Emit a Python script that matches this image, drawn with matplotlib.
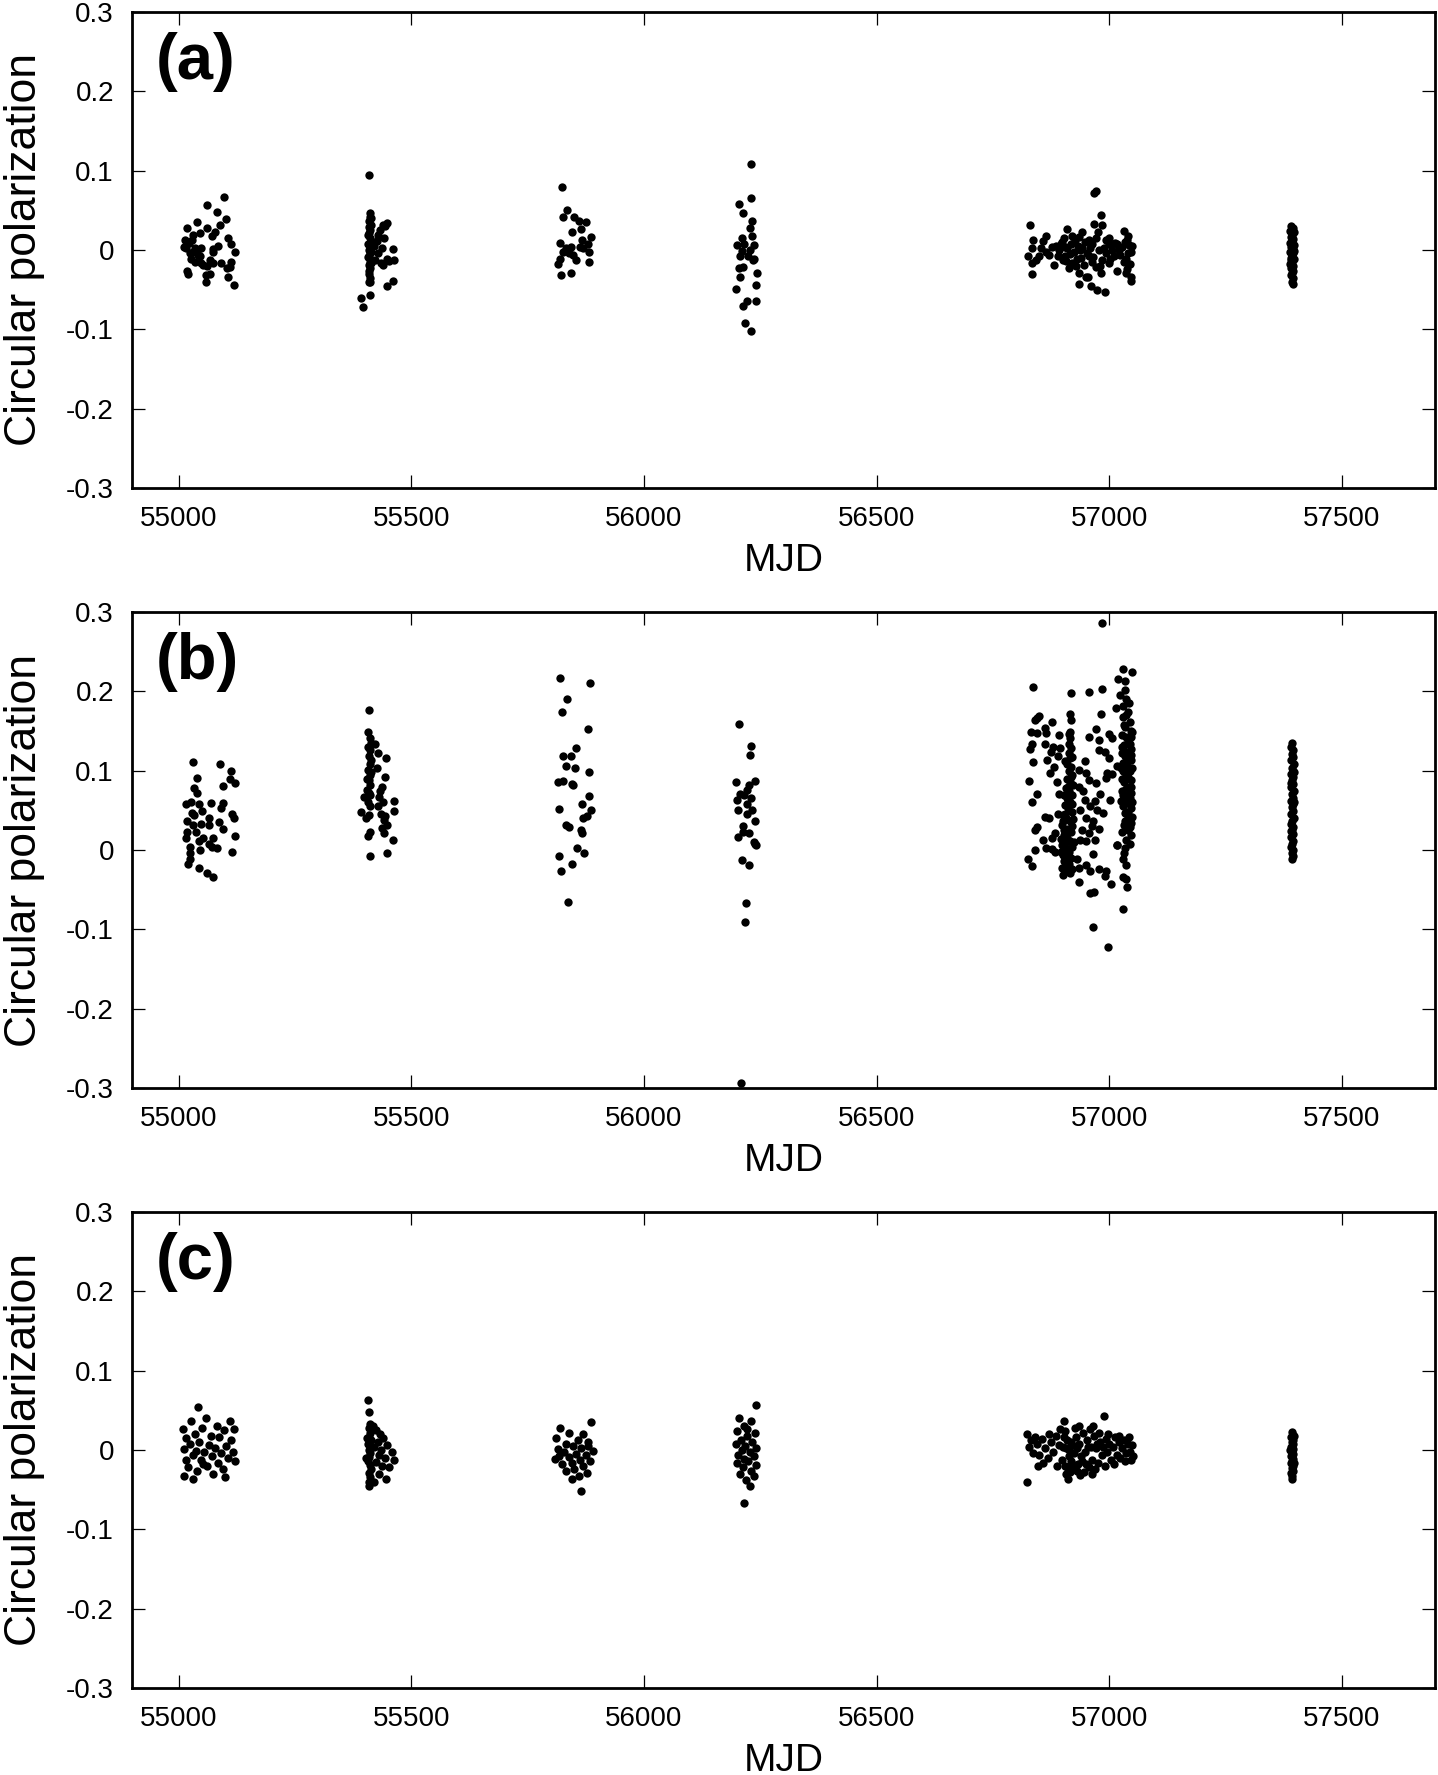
import matplotlib.pyplot as plt

plt.rcParams.update({'font.family': ['Liberation Sans', 'DejaVu Sans'],
                     'font.size': 20, 'axes.unicode_minus': False})

xticks = [55000, 55500, 56000, 56500, 57000, 57500]
yticks = [-0.3, -0.2, -0.1, 0, 0.1, 0.2, 0.3]
ytick_labels = ["-0.3", "-0.2", "-0.1", "0", "0.1", "0.2", "0.3"]
panel_tags = ["(a)", "(b)", "(c)"]

# (MJD, circular polarization), panel (a)
panel_a = [
    # 2009
    (55097, 0.067), (55062, 0.057), (55083, 0.048), (55102, 0.039), (55039, 0.035),
    (55019, 0.028), (55061, 0.028), (55089, 0.031), (55078, 0.023), (55046, 0.021),
    (55072, 0.017), (55106, 0.015), (55014, 0.012), (55028, 0.013), (55112, 0.008),
    (55085, 0.005), (55017, 0.003), (55035, 0.002), (55049, 0.002), (55073, 0.001),
    (55121, -0.002), (55075, -0.002), (55024, -0.004), (55042, -0.006), (55026, -0.011),
    (55067, -0.013), (55092, -0.016), (55112, -0.015), (55035, -0.015), (55049, -0.017),
    (55075, -0.016), (55061, -0.020), (55104, -0.023), (55110, -0.021), (55019, -0.026),
    (55021, -0.030), (55060, -0.032), (55067, -0.030), (55107, -0.034), (55060, -0.041),
    (55119, -0.044), (55012, 0.004), (55039, 0.000), (55046, -0.008), (55030, -0.002),
    (55053, -0.019), (55022, 0.009), (55031, 0.019),
    # 2010
    (55410, 0.095), (55412, 0.046), (55411, 0.042), (55410, 0.036), (55409, 0.029),
    (55411, 0.025), (55408, 0.019), (55411, 0.015), (55407, 0.008), (55412, 0.004),
    (55409, 0.000), (55411, -0.004), (55408, -0.009), (55411, -0.015), (55409, -0.019),
    (55412, -0.023), (55410, -0.030), (55411, -0.036), (55412, -0.041), (55409, -0.040),
    (55413, 0.040), (55410, 0.021), (55413, 0.011), (55410, -0.008), (55413, -0.017),
    (55409, -0.027), (55414, 0.031), (55414, -0.003),
    (55447, 0.034), (55440, 0.032), (55433, 0.025), (55429, 0.019), (55441, 0.015),
    (55426, 0.011), (55438, 0.002), (55461, 0.001), (55429, -0.004), (55447, -0.011),
    (55462, -0.013), (55440, -0.019), (55422, -0.013), (55461, -0.039), (55449, -0.045),
    (55412, -0.057), (55392, -0.061), (55397, -0.072), (55444, 0.030), (55436, -0.017),
    (55420, 0.005), (55452, -0.014),
    # 2011
    (55825, 0.079), (55835, 0.050), (55826, 0.042), (55850, 0.041), (55860, 0.037),
    (55875, 0.035), (55846, 0.023), (55865, 0.026), (55887, 0.016), (55866, 0.013),
    (55819, 0.009), (55880, 0.008), (55833, 0.002), (55844, 0.004), (55869, 0.002),
    (55883, -0.002), (55826, -0.002), (55847, -0.006), (55854, -0.013), (55819, -0.011),
    (55815, -0.018), (55881, -0.015), (55843, -0.029), (55821, -0.032), (55840, -0.004),
    (55862, 0.004),
    # 2012
    (56231, 0.108), (56230, 0.066), (56204, 0.058), (56213, 0.046), (56232, 0.036),
    (56227, 0.027), (56211, 0.015), (56232, 0.017), (56201, 0.006), (56236, 0.006),
    (56216, 0.008), (56206, -0.008), (56224, -0.008), (56237, -0.012), (56213, -0.021),
    (56206, -0.034), (56243, -0.029), (56240, -0.044), (56199, -0.049), (56222, -0.065),
    (56240, -0.065), (56213, -0.071), (56218, -0.092), (56230, -0.102), (56211, -0.001),
    (56227, 0.000), (56234, -0.013), (56205, -0.023),
    # 2014
    (56830, 0.031), (56967, 0.072), (56971, 0.074), (56982, 0.044), (56967, 0.033),
    (56985, 0.032), (56910, 0.026), (56942, 0.023), (57031, 0.024), (56864, 0.017),
    (56976, 0.023), (56836, 0.013), (56857, 0.011), (56903, 0.015), (56935, 0.016),
    (56956, 0.013), (56963, 0.008), (56999, 0.008), (57013, 0.009), (57039, 0.013),
    (57042, 0.006), (56834, 0.002), (56878, 0.004), (56893, 0.000), (56910, 0.002),
    (56924, -0.002), (56942, 0.002), (56978, 0.000), (56992, -0.004), (57020, 0.000),
    (57046, -0.002), (56825, -0.008), (56850, -0.008), (56871, -0.006), (56906, -0.008),
    (56931, -0.011), (56956, -0.008), (56985, -0.013), (57010, -0.008), (57035, -0.011),
    (56835, -0.017), (56882, -0.019), (56914, -0.023), (56946, -0.019), (56971, -0.021),
    (56999, -0.017), (57017, -0.027), (57038, -0.024), (56834, -0.030), (56935, -0.029),
    (56955, -0.034), (56982, -0.029), (57046, -0.034), (57046, -0.039), (56935, -0.043),
    (56960, -0.045), (56974, -0.050), (56990, -0.053), (57035, -0.029), (56949, -0.034),
    (56896, 0.008), (56917, 0.008), (56900, -0.013), (56921, -0.017), (56889, -0.008),
    (56938, 0.000), (56953, -0.004), (57006, 0.000), (57027, 0.004), (57031, -0.015),
    (56864, -0.002), (56853, 0.002), (56842, -0.013), (56999, 0.015), (57017, 0.008),
    (56971, 0.015), (56926, 0.012), (56915, -0.005), (56898, 0.010), (57040, 0.018),
    (57048, 0.005), (57044, -0.018), (56886, 0.005), (56932, 0.005), (56962, -0.015),
    (56908, -0.014), (56920, 0.018), (56928, -0.020), (56940, -0.010), (56947, 0.010),
    (56958, 0.003), (56966, -0.009), (56980, -0.020), (56988, 0.003), (56994, 0.012),
    (57002, -0.012), (57024, -0.006), (57033, 0.010), (57041, -0.004), (56904, 0.004),
    # 2016
    (57391, 0.030), (57394, 0.027), (57389, 0.024), (57396, 0.022), (57392, 0.019),
    (57390, 0.016), (57395, 0.014), (57393, 0.011), (57388, 0.009), (57396, 0.006),
    (57391, 0.004), (57394, 0.001), (57389, -0.002), (57395, -0.004), (57392, -0.007),
    (57390, -0.010), (57396, -0.012), (57393, -0.015), (57389, -0.018), (57395, -0.020),
    (57391, -0.023), (57394, -0.026), (57392, -0.029), (57390, -0.032), (57395, -0.035),
    (57392, -0.040), (57394, -0.043), (57390, -0.013), (57396, -0.001), (57393, 0.020),
]

# panel (b)
panel_b = [
    # 2009
    (55032, 0.111), (55090, 0.108), (55112, 0.100), (55040, 0.091), (55110, 0.089),
    (55121, 0.084), (55095, 0.081), (55033, 0.078), (55040, 0.072), (55016, 0.058),
    (55026, 0.061), (55043, 0.058), (55069, 0.059), (55095, 0.059), (55092, 0.053),
    (55051, 0.049), (55029, 0.047), (55034, 0.044), (55114, 0.045), (55119, 0.041),
    (55065, 0.040), (55019, 0.036), (55088, 0.035), (55030, 0.032), (55049, 0.033),
    (55065, 0.031), (55095, 0.027), (55037, 0.023), (55019, 0.023), (55121, 0.018),
    (55017, 0.015), (55052, 0.015), (55074, 0.015), (55044, 0.011), (55065, 0.008),
    (55024, 0.004), (55072, 0.004), (55082, 0.003), (55047, 0.000), (55114, -0.003),
    (55024, -0.004), (55024, -0.011), (55021, -0.018), (55043, -0.023), (55061, -0.029),
    (55074, -0.034),
    # 2010
    (55410, 0.176), (55407, 0.149), (55412, 0.141), (55423, 0.134), (55429, 0.122),
    (55445, 0.116), (55411, 0.126), (55409, 0.118), (55411, 0.109), (55426, 0.104),
    (55407, 0.101), (55412, 0.095), (55443, 0.092), (55409, 0.088), (55411, 0.082),
    (55438, 0.080), (55433, 0.074), (55406, 0.076), (55399, 0.067), (55411, 0.069),
    (55431, 0.067), (55462, 0.062), (55407, 0.061), (55440, 0.060), (55412, 0.055),
    (55429, 0.055), (55462, 0.049), (55392, 0.048), (55436, 0.046), (55409, 0.044),
    (55402, 0.040), (55442, 0.038), (55447, 0.032), (55412, 0.023), (55442, 0.022),
    (55407, 0.018), (55460, 0.013), (55412, -0.007), (55448, -0.004), (55414, 0.114),
    (55413, 0.098), (55408, 0.130), (55413, 0.135), (55410, 0.072), (55405, 0.090),
    (55437, 0.028), (55444, 0.043),
    # 2011
    (55819, 0.217), (55885, 0.210), (55835, 0.191), (55823, 0.174), (55880, 0.153),
    (55855, 0.129), (55826, 0.119), (55843, 0.119), (55832, 0.106), (55851, 0.103),
    (55882, 0.098), (55815, 0.086), (55826, 0.087), (55845, 0.083), (55882, 0.068),
    (55868, 0.058), (55818, 0.052), (55886, 0.050), (55878, 0.043), (55833, 0.031),
    (55840, 0.029), (55865, 0.025), (55866, 0.021), (55856, 0.002), (55871, -0.004),
    (55818, -0.008), (55846, -0.017), (55822, -0.026), (55837, -0.065), (55848, 0.082),
    (55869, 0.040),
    # 2012
    (56204, 0.159), (56231, 0.131), (56229, 0.120), (56198, 0.086), (56238, 0.087),
    (56226, 0.082), (56222, 0.076), (56207, 0.071), (56216, 0.069), (56230, 0.065),
    (56200, 0.063), (56222, 0.058), (56203, 0.051), (56233, 0.051), (56222, 0.045),
    (56239, 0.037), (56203, 0.017), (56212, 0.023), (56226, 0.021), (56239, 0.008),
    (56241, 0.006), (56211, -0.013), (56226, -0.019), (56219, -0.067), (56217, -0.091),
    (56209, -0.293), (56214, 0.030), (56236, 0.010),
    # 2014, scattered early part
    (56837, 0.205), (56844, 0.167), (56850, 0.169), (56840, 0.164), (56861, 0.154),
    (56877, 0.161), (56832, 0.149), (56844, 0.147), (56864, 0.147), (56893, 0.145),
    (56861, 0.134), (56879, 0.130), (56833, 0.134), (56830, 0.127), (56895, 0.129),
    (56875, 0.124), (56889, 0.118), (56837, 0.111), (56866, 0.113), (56882, 0.105),
    (56872, 0.097), (56887, 0.086), (56828, 0.087), (56893, 0.071), (56845, 0.071),
    (56834, 0.061), (56861, 0.042), (56870, 0.040), (56890, 0.045), (56844, 0.029),
    (56840, 0.025), (56858, 0.013), (56876, 0.015), (56883, 0.021), (56865, 0.002),
    (56876, 0.001), (56883, -0.003), (56840, 0.000), (56826, -0.011), (56833, -0.020),
    # 2014, first dense run
    (56917, 0.198), (56916, 0.172), (56917, 0.164), (56915, 0.149), (56916, 0.141),
    (56914, 0.134), (56917, 0.128), (56913, 0.122), (56916, 0.116), (56910, 0.109),
    (56917, 0.105), (56913, 0.099), (56921, 0.095), (56909, 0.090), (56915, 0.086),
    (56922, 0.082), (56907, 0.078), (56914, 0.074), (56921, 0.069), (56909, 0.065),
    (56916, 0.061), (56904, 0.057), (56912, 0.053), (56920, 0.048), (56900, 0.044),
    (56907, 0.040), (56915, 0.036), (56899, 0.032), (56911, 0.027), (56918, 0.023),
    (56902, 0.019), (56909, 0.015), (56915, 0.011), (56898, 0.006), (56905, 0.002),
    (56913, -0.002), (56901, -0.006), (56908, -0.011), (56914, -0.017), (56899, -0.023),
    (56906, -0.027), (56900, -0.032), (56915, -0.029), (56903, 0.025), (56911, 0.063),
    (56906, 0.112), (56918, 0.092), (56903, 0.070), (56919, 0.058), (56906, 0.046),
    (56919, 0.030), (56904, 0.009), (56919, 0.004), (56903, -0.014), (56910, -0.020),
    (56918, -0.010), (56901, 0.036), (56912, 0.080), (56919, 0.117), (56913, 0.146),
    (56924, 0.010), (56923, 0.039), (56897, -0.002), (56896, 0.014), (56921, -0.024),
    # 2014, between the runs
    (56956, 0.199), (56985, 0.203), (56983, 0.171), (56972, 0.153), (56957, 0.142),
    (56977, 0.139), (57000, 0.146), (57006, 0.141), (56979, 0.126), (56991, 0.124),
    (56947, 0.112), (57000, 0.116), (57017, 0.106), (56936, 0.101), (56950, 0.097),
    (56995, 0.097), (57007, 0.096), (56956, 0.088), (56971, 0.085), (56992, 0.091),
    (56936, 0.080), (56980, 0.071), (57002, 0.063), (56947, 0.063), (56970, 0.062),
    (56959, 0.055), (56973, 0.050), (56938, 0.050), (56987, 0.047), (56949, 0.040),
    (56965, 0.036), (56977, 0.027), (56942, 0.025), (56956, 0.021), (56938, 0.013),
    (56970, 0.013), (56951, 0.011), (57016, 0.006), (56966, -0.005), (56930, -0.011),
    (56936, -0.022), (56951, -0.019), (56977, -0.024), (56958, -0.027), (56994, -0.027),
    (56990, -0.033), (56936, -0.040), (57003, -0.043), (56958, -0.054), (56968, -0.053),
    (56966, -0.097), (56998, -0.122), (56985, 0.286), (56944, 0.074), (56962, 0.030),
    # 2014/15, second dense run
    (57030, 0.228), (57049, 0.225), (57018, 0.215), (57034, 0.213), (57033, 0.202),
    (57023, 0.196), (57036, 0.191), (57015, 0.179), (57030, 0.181), (57040, 0.174),
    (57030, 0.168), (57045, 0.162), (57034, 0.155), (57049, 0.149), (57027, 0.145),
    (57040, 0.139), (57032, 0.132), (57047, 0.127), (57027, 0.122), (57042, 0.116),
    (57034, 0.109), (57049, 0.103), (57029, 0.099), (57040, 0.092), (57032, 0.086),
    (57046, 0.080), (57027, 0.074), (57037, 0.067), (57048, 0.061), (57030, 0.055),
    (57041, 0.048), (57049, 0.042), (57034, 0.036), (57044, 0.029), (57027, 0.023),
    (57047, 0.019), (57016, 0.006), (57031, -0.004), (57030, -0.011), (57036, -0.019),
    (57030, -0.034), (57035, -0.037), (57038, -0.046), (57030, -0.074),
    (57043, 0.185), (57037, 0.170), (57046, 0.150), (57036, 0.143), (57044, 0.134),
    (57028, 0.130), (57038, 0.124), (57047, 0.113), (57030, 0.110), (57044, 0.100),
    (57036, 0.095), (57028, 0.090), (57047, 0.088), (57038, 0.079), (57030, 0.070),
    (57044, 0.066), (57036, 0.059), (57047, 0.053), (57033, 0.047), (57040, 0.040),
    (57031, 0.032), (57041, 0.025), (57036, 0.013), (57044, 0.008), (57034, 0.002),
    (57046, 0.034), (57046, 0.072), (57046, 0.120), (57046, 0.143), (57031, 0.157),
    (57026, 0.103), (57026, 0.062), (57034, 0.119), (57040, 0.105), (57033, 0.076),
    # 2016
    (57393, 0.135), (57391, 0.130), (57395, 0.126), (57392, 0.121), (57394, 0.117),
    (57390, 0.113), (57396, 0.109), (57392, 0.104), (57394, 0.100), (57390, 0.096),
    (57395, 0.092), (57392, 0.088), (57394, 0.083), (57391, 0.079), (57396, 0.075),
    (57392, 0.071), (57394, 0.066), (57390, 0.062), (57395, 0.058), (57392, 0.054),
    (57394, 0.049), (57391, 0.045), (57396, 0.041), (57393, 0.037), (57390, 0.033),
    (57395, 0.029), (57392, 0.025), (57394, 0.020), (57391, 0.016), (57395, 0.012),
    (57393, 0.008), (57390, 0.004), (57394, 0.000), (57392, -0.004), (57395, -0.007),
    (57393, -0.011), (57396, 0.060), (57390, 0.085), (57396, 0.098), (57390, 0.024),
]

# panel (c)
panel_c = [
    # 2009
    (55042, 0.054), (55026, 0.036), (55110, 0.037), (55060, 0.040), (55083, 0.030),
    (55010, 0.026), (55050, 0.028), (55097, 0.025), (55120, 0.027), (55035, 0.020),
    (55070, 0.018), (55015, 0.015), (55088, 0.016), (55112, 0.012), (55044, 0.010),
    (55025, 0.008), (55065, 0.006), (55102, 0.005), (55078, 0.003), (55012, 0.001),
    (55038, -0.001), (55055, -0.002), (55092, -0.004), (55118, -0.003), (55030, -0.006),
    (55072, -0.008), (55106, -0.010), (55015, -0.012), (55048, -0.013), (55084, -0.016),
    (55122, -0.014), (55062, -0.020), (55020, -0.022), (55096, -0.024), (55040, -0.027),
    (55075, -0.030), (55012, -0.033), (55030, -0.036), (55100, -0.034), (55052, -0.018),
    # 2010
    (55408, 0.063), (55410, 0.048), (55412, 0.033), (55409, 0.028), (55411, 0.022),
    (55410, 0.017), (55413, 0.012), (55408, 0.008), (55411, 0.004), (55409, 0.000),
    (55412, -0.004), (55410, -0.009), (55408, -0.014), (55411, -0.019), (55413, -0.024),
    (55409, -0.029), (55411, -0.034), (55410, -0.040), (55409, -0.045), (55405, 0.015),
    (55402, -0.010), (55425, 0.025), (55432, 0.020), (55440, 0.015), (55428, 0.010),
    (55448, 0.006), (55420, 0.004), (55436, 0.000), (55458, -0.002), (55430, -0.006),
    (55444, -0.010), (55462, -0.012), (55424, -0.015), (55438, -0.020), (55452, -0.022),
    (55430, -0.030), (55446, -0.036), (55420, -0.040), (55418, 0.030),
    # 2011
    (55886, 0.035), (55820, 0.028), (55840, 0.022), (55870, 0.020), (55812, 0.015),
    (55858, 0.012), (55880, 0.010), (55832, 0.008), (55848, 0.005), (55865, 0.003),
    (55815, 0.001), (55890, -0.001), (55828, -0.003), (55855, -0.005), (55875, -0.006),
    (55838, -0.009), (55810, -0.011), (55862, -0.012), (55885, -0.014), (55845, -0.016),
    (55825, -0.018), (55870, -0.020), (55850, -0.024), (55832, -0.027), (55878, -0.029),
    (55860, -0.033), (55845, -0.037), (55864, -0.052), (55818, -0.008), (55880, 0.005),
    # 2012
    (56241, 0.057), (56205, 0.040), (56230, 0.036), (56215, 0.030), (56200, 0.024),
    (56238, 0.022), (56222, 0.018), (56208, 0.013), (56233, 0.010), (56199, 0.007),
    (56218, 0.005), (56240, 0.002), (56210, 0.000), (56227, -0.003), (56203, -0.006),
    (56236, -0.008), (56215, -0.011), (56224, -0.014), (56200, -0.017), (56240, -0.019),
    (56212, -0.022), (56230, -0.026), (56207, -0.030), (56236, -0.033), (56220, -0.038),
    (56228, -0.045), (56215, -0.067), (56222, 0.026),
    # 2014
    (56824, 0.020), (56832, 0.012), (56840, 0.016), (56828, 0.004), (56836, -0.004),
    (56824, -0.040), (56844, 0.008), (56850, -0.006), (56856, 0.014), (56862, 0.002),
    (56868, -0.010), (56874, 0.010), (56880, -0.002), (56886, 0.018), (56892, 0.006),
    (56898, -0.012), (56903, 0.037), (56906, 0.024), (56910, 0.012), (56914, 0.000),
    (56918, -0.014), (56922, -0.024), (56926, 0.028), (56908, -0.030), (56912, -0.036),
    (56916, -0.028), (56920, 0.006), (56924, -0.004), (56928, 0.016), (56932, -0.018),
    (56936, 0.008), (56940, -0.008), (56944, 0.022), (56948, -0.002), (56952, 0.012),
    (56956, -0.022), (56960, 0.004), (56964, -0.012), (56968, 0.018), (56972, 0.002),
    (56976, -0.016), (56980, 0.010), (56984, -0.006), (56988, 0.043), (56992, 0.014),
    (56996, -0.002), (57000, 0.008), (57004, -0.012), (57008, 0.004), (57012, 0.016),
    (57016, -0.006), (57020, 0.010), (57024, -0.010), (57028, 0.002), (57032, 0.012),
    (57036, -0.004), (57040, 0.008), (57044, -0.002), (57048, 0.006), (57050, -0.008),
    (56900, 0.004), (56904, -0.020), (56930, -0.026), (56946, -0.028), (56958, 0.026),
    (56966, 0.030), (56978, 0.022), (56998, 0.020), (56934, 0.030), (56902, 0.016),
    (56888, -0.020), (56870, 0.020), (56858, -0.016), (56846, -0.020), (56894, 0.026),
    (57042, 0.016), (57046, -0.012), (57034, -0.014), (57022, 0.018), (57010, -0.018),
    (56990, -0.020), (56970, -0.024), (56950, -0.018), (56938, -0.032), (56962, -0.030),
    (56907, 0.003), (56913, -0.008), (56917, 0.010), (56921, -0.018), (56909, -0.022),
    (56930, 0.002), (56942, -0.014), (56954, 0.004), (56974, 0.008), (56986, 0.004),
    # 2016
    (57392, 0.023), (57394, 0.019), (57390, 0.016), (57395, 0.013), (57392, 0.010),
    (57394, 0.007), (57390, 0.004), (57395, 0.001), (57392, -0.002), (57394, -0.005),
    (57390, -0.008), (57395, -0.011), (57393, -0.014), (57391, -0.017), (57394, -0.020),
    (57392, -0.023), (57395, -0.026), (57390, -0.029), (57393, -0.033), (57392, -0.037),
    (57396, 0.018), (57389, 0.000), (57396, -0.016),
]

panels = [panel_a, panel_b, panel_c]
bottoms = [0.7251, 0.3870, 0.0490]

fig = plt.figure(figsize=(14.38, 17.75), dpi=100)
for pts, bot, tag in zip(panels, bottoms, panel_tags):
    ax = fig.add_axes([0.0918, bot, 0.9061, 0.2682])
    mjd = [p[0] for p in pts]
    cp = [p[1] for p in pts]
    ax.plot(mjd, cp, 'o', color='black', ms=6, mew=0)
    ax.set_xlim(54900, 57700)
    ax.set_ylim(-0.3, 0.3)
    ax.set_xticks(xticks)
    ax.set_xticklabels([str(t) for t in xticks])
    ax.set_yticks(yticks)
    ax.set_yticklabels(ytick_labels)
    ax.tick_params(direction='in', length=9.5, width=0.9, top=True, right=True,
                   labelsize=20, pad=13)
    for s in ax.spines.values():
        s.set_linewidth(2)
    ax.set_xlabel("MJD", fontsize=28, labelpad=8)
    ax.set_ylabel("Circular polarization", fontsize=32, labelpad=15)
    ax.text(0.018, 0.958, tag, transform=ax.transAxes, fontsize=47,
            fontweight='bold', ha='left', va='top')

fig.savefig("out.png", dpi=100)
